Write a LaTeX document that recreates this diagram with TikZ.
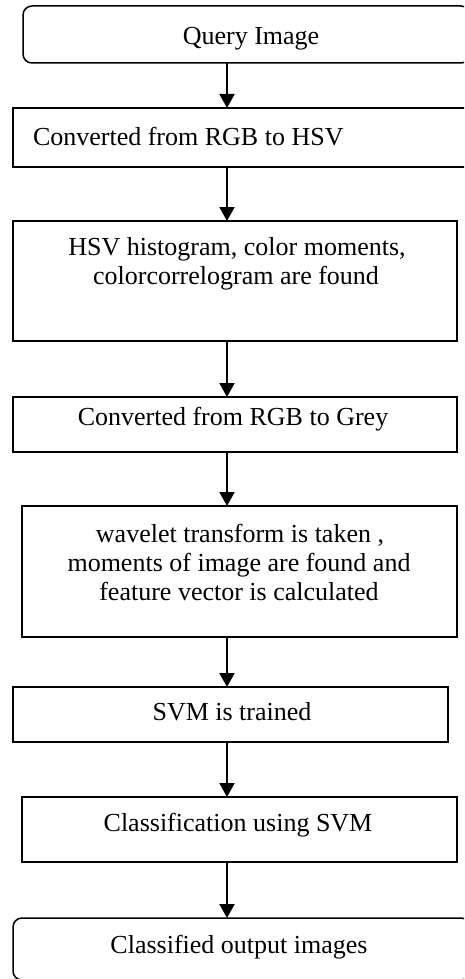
\documentclass[tikz,border=0pt]{standalone}
\usepackage{fontspec}
\setmainfont{Liberation Serif}
\usetikzlibrary{arrows.meta}
\begin{document}
\begin{tikzpicture}[x=1pt,y=-1pt,
  box/.style={draw=black, line width=1.5pt, rectangle, inner sep=0pt, outer sep=0pt},
  rbox/.style={box, rounded corners=9pt},
  txt/.style={inner sep=0pt, outer sep=0pt, font=\fontsize{26}{29.5}\selectfont, anchor=base},
  arr/.style={line width=2pt, -{Triangle[width=15pt,length=14pt]}}]
\useasboundingbox (0,0) rectangle (464,979);
\fill[white] (0,0) rectangle (464,979);
\begin{scope}
\clip (0,0) rectangle (464,979);
\node[rbox, minimum width=447pt, minimum height=57pt] (q) at (246.5,34.5) {};
\node[box, minimum width=457pt, minimum height=59pt] (c1) at (241.5,137.5) {};
\node[box, minimum width=444pt, minimum height=120pt] (h) at (235,281) {};
\node[box, minimum width=444pt, minimum height=55pt] (g) at (235,424.5) {};
\node[box, minimum width=435pt, minimum height=131pt] (w) at (239.5,571.5) {};
\node[box, minimum width=435pt, minimum height=55pt] (s) at (230.5,714.5) {};
\node[box, minimum width=435pt, minimum height=65pt] (c) at (239.5,829.5) {};
\node[rbox, minimum width=457pt, minimum height=62pt] (o) at (241.5,949) {};
\end{scope}

\node[txt] (tq) at (251,45) {Query Image};
\node[txt, anchor=base west] (tc1) at (33,146) {Converted from RGB to HSV};
\node[txt] (th1) at (237,255) {HSV histogram, color moments,};
\node[txt] (th2) at (236,284) {colorcorrelogram are found};
\node[txt] (tg) at (233,425) {Converted from RGB to Grey};
\node[txt] (tw1) at (240,542) {wavelet transform is taken ,};
\node[txt] (tw2) at (239,571) {moments of image are found and};
\node[txt] (tw3) at (239,600) {feature vector is calculated};
\node[txt] (ts) at (232,720) {SVM is trained};
\node[txt] (tcl) at (238,831) {Classification using SVM};
\node[txt] (to) at (239,953) {Classified output images};

\coordinate (ax) at (227,0);
\draw[arr] (q.south -| ax) -- (c1.north -| ax);
\draw[arr] (c1.south -| ax) -- (h.north -| ax);
\draw[arr] (h.south -| ax) -- (g.north -| ax);
\draw[arr] (g.south -| ax) -- (w.north -| ax);
\draw[arr] (w.south -| ax) -- (s.north -| ax);
\draw[arr] (s.south -| ax) -- (c.north -| ax);
\draw[arr] (c.south -| ax) -- (o.north -| ax);
\end{tikzpicture}
\end{document}
